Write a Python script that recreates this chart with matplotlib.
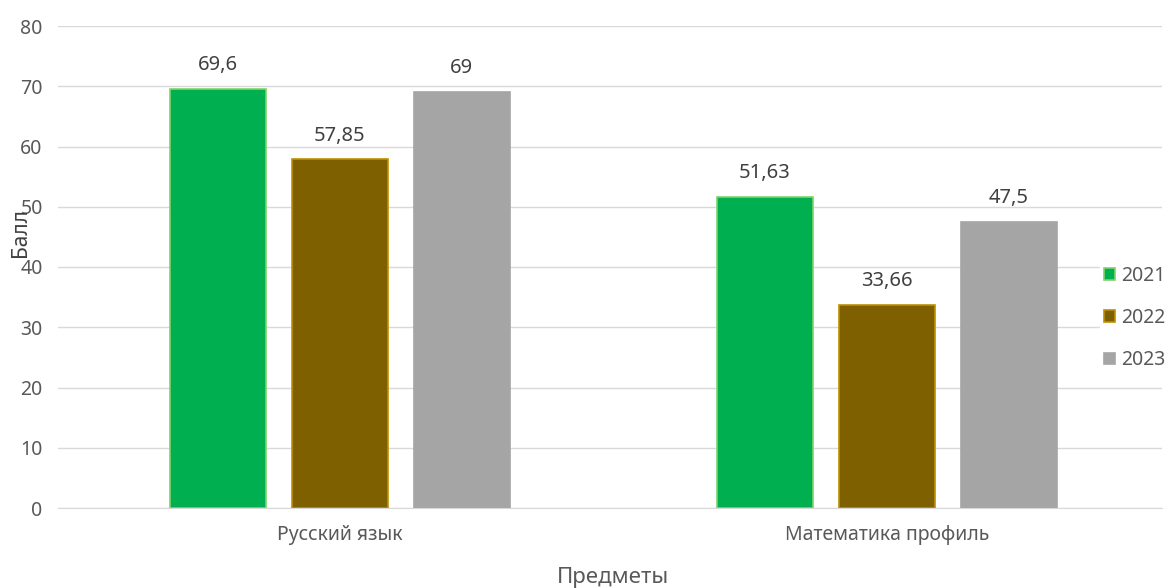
import numpy as np
import matplotlib
matplotlib.use('Agg')
import matplotlib.pyplot as plt

plt.rcParams['font.family'] = ['Noto Sans', 'DejaVu Sans']

# данные
subjects = ['Русский язык', 'Математика профиль']
years = ['2021', '2022', '2023']
scores_2021 = [69.6, 51.63]
scores_2022 = [57.85, 33.66]
scores_2023 = [69, 47.5]
labels_2021 = ['69,6', '51,63']
labels_2022 = ['57,85', '33,66']
labels_2023 = ['69', '47,5']

series = [scores_2021, scores_2022, scores_2023]
series_labels = [labels_2021, labels_2022, labels_2023]
face_colors = ['#00B050', '#7F6000', '#A5A5A5']
edge_colors = ['#7FD36A', '#BF9000', '#A5A5A5']

fig = plt.figure(figsize=(11.73, 5.88), dpi=100)
ax = fig.add_axes([58 / 1173, 1 - 508 / 588, (1162 - 58) / 1173, (508 - 26) / 588])

x = np.arange(len(subjects))
step = 0.223
width = 0.1755
for i, (vals, labs) in enumerate(zip(series, series_labels)):
    pos = x + (i - 1) * step
    ax.bar(pos, vals, width, color=face_colors[i], edgecolor=edge_colors[i],
           linewidth=1.2, label=years[i], zorder=3)
    for p, v, t in zip(pos, vals, labs):
        ax.annotate(t, (p, v), xytext=(0, 10), textcoords='offset points',
                    ha='center', va='bottom', fontsize=14.5, color='#404040')

ax.set_xlim(-0.5155, 1.503)
ax.set_ylim(0, 80)
ax.set_yticks(range(0, 81, 10))
ax.yaxis.grid(True, color='#D9D9D9', linewidth=1, zorder=0)
ax.set_axisbelow(True)
for s in ['top', 'right', 'left']:
    ax.spines[s].set_visible(False)
ax.spines['bottom'].set_color('#D9D9D9')
ax.tick_params(axis='both', length=0, labelsize=14, labelcolor='#595959')
ax.tick_params(axis='y', pad=11)
ax.tick_params(axis='x', pad=12)
ax.set_xticks(x)
ax.set_xticklabels(subjects)

fig.text(20 / 1173, 1 - 233 / 588, 'Балл', rotation=90, ha='center', va='center',
         fontsize=15, color='#404040')
fig.text(613 / 1173, 1 - 577 / 588, 'Предметы', ha='center', va='center',
         fontsize=16, color='#595959')

leg = ax.legend(loc='center left',
                bbox_to_anchor=((1100 - 58) / (1162 - 58), (508 - 318) / (508 - 26)),
                frameon=True, fontsize=14, handlelength=0.55, handleheight=0.55,
                handletextpad=0.35, labelspacing=1.15, borderaxespad=0,
                borderpad=0.2)
leg.get_frame().set_edgecolor('white')
leg.get_frame().set_facecolor('white')
leg.get_frame().set_alpha(1)
for t in leg.get_texts():
    t.set_color('#595959')

plt.savefig('out.png', dpi=100)
